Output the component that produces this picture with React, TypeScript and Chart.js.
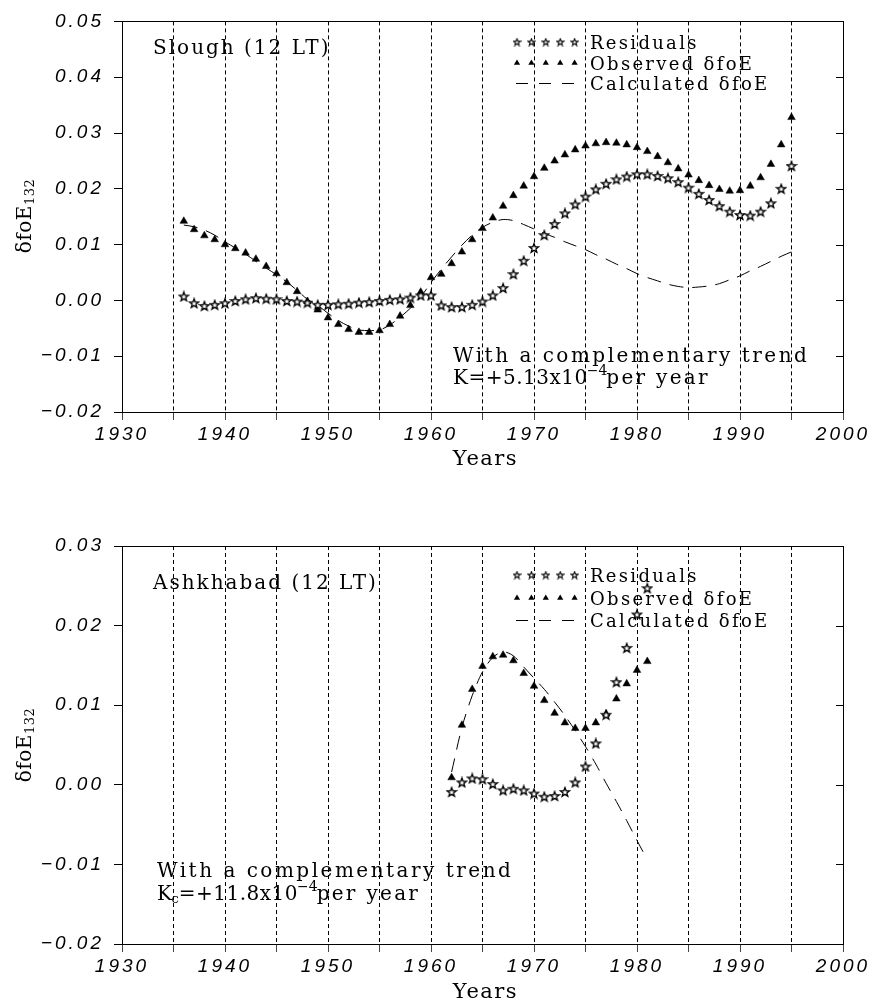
import React, { useEffect, useRef } from "react";
import { Chart, registerables } from "chart.js";
Chart.register(...registerables);

// ---------- data ----------
const xTickValues = [1930, 1935, 1940, 1945, 1950, 1955, 1960, 1965, 1970, 1975, 1980, 1985, 1990, 1995, 2000];
const xTickLabels = ["1930", "", "1940", "", "1950", "", "1960", "", "1970", "", "1980", "", "1990", "", "2000"];

const sloughYTicks = [-0.02, -0.01, 0, 0.01, 0.02, 0.03, 0.04, 0.05];
const sloughYLabels = ["\u22120.02", "\u22120.01", "0.00", "0.01", "0.02", "0.03", "0.04", "0.05"];
const ashYTicks = [-0.02, -0.01, 0, 0.01, 0.02, 0.03];
const ashYLabels = ["\u22120.02", "\u22120.01", "0.00", "0.01", "0.02", "0.03"];

const sloughYears = [
  1936, 1937, 1938, 1939, 1940, 1941, 1942, 1943, 1944, 1945,
  1946, 1947, 1948, 1949, 1950, 1951, 1952, 1953, 1954, 1955,
  1956, 1957, 1958, 1959, 1960, 1961, 1962, 1963, 1964, 1965,
  1966, 1967, 1968, 1969, 1970, 1971, 1972, 1973, 1974, 1975,
  1976, 1977, 1978, 1979, 1980, 1981, 1982, 1983, 1984, 1985,
  1986, 1987, 1988, 1989, 1990, 1991, 1992, 1993, 1994, 1995,
];
const sloughObserved = [
  0.0142, 0.0127, 0.0116, 0.0109, 0.0100, 0.0093, 0.0085, 0.0074, 0.0061, 0.0048,
  0.0032, 0.0016, -0.0002, -0.0017, -0.0031, -0.0043, -0.0052, -0.0057, -0.0057, -0.0054,
  -0.0043, -0.0028, -0.0009, 0.0015, 0.0041, 0.0047, 0.0066, 0.0087, 0.0109, 0.0129,
  0.0148, 0.0169, 0.0188, 0.0205, 0.0222, 0.0237, 0.0250, 0.0261, 0.0270, 0.0277,
  0.0281, 0.0283, 0.0282, 0.0279, 0.0274, 0.0267, 0.0258, 0.0247, 0.0236, 0.0225,
  0.0215, 0.0206, 0.0199, 0.0196, 0.0197, 0.0205, 0.0220, 0.0244, 0.0279, 0.0328,
];
const sloughResiduals = [
  0.0007, -0.0005, -0.0010, -0.0008, -0.0005, -0.0001, 0.0002, 0.0004, 0.0003, 0.0002,
  -0.0001, -0.0002, -0.0004, -0.0008, -0.0008, -0.0007, -0.0006, -0.0004, -0.0003, -0.0001,
  0.0001, 0.0002, 0.0005, 0.0009, 0.0009, -0.0009, -0.0012, -0.0012, -0.0008, -0.0002,
  0.0009, 0.0022, 0.0047, 0.0071, 0.0094, 0.0117, 0.0137, 0.0156, 0.0172, 0.0186,
  0.0199, 0.0209, 0.0217, 0.0222, 0.0226, 0.0226, 0.0223, 0.0219, 0.0212, 0.0202,
  0.0191, 0.0180, 0.0169, 0.0159, 0.0153, 0.0152, 0.0159, 0.0174, 0.0200, 0.0241,
];
const sloughCalculated = [
  0.0135, 0.0132, 0.0126, 0.0117, 0.0105, 0.0094, 0.0083, 0.0070, 0.0058, 0.0046,
  0.0033, 0.0018, 0.0002, -0.0009, -0.0023, -0.0036, -0.0046, -0.0053, -0.0054, -0.0053,
  -0.0044, -0.0030, -0.0014, 0.0006, 0.0032, 0.0056, 0.0078, 0.0099, 0.0117, 0.0131,
  0.0140, 0.0145, 0.0143, 0.0136, 0.0128, 0.0120, 0.0113, 0.0105, 0.0098, 0.0091,
  0.0082, 0.0074, 0.0065, 0.0057, 0.0048, 0.0041, 0.0035, 0.0029, 0.0025, 0.0023,
  0.0024, 0.0026, 0.0030, 0.0037, 0.0044, 0.0053, 0.0061, 0.0070, 0.0079, 0.0087,
];

const ashYears = [
  1962, 1963, 1964, 1965, 1966, 1967, 1968, 1969, 1970, 1971,
  1972, 1973, 1974, 1975, 1976, 1977, 1978, 1979, 1980, 1981,
];
const ashObserved = [
  0.0009, 0.0075, 0.0120, 0.0149, 0.0161, 0.0163, 0.0156, 0.0140, 0.0124, 0.0106,
  0.0090, 0.0078, 0.0071, 0.0071, 0.0078, 0.0089, 0.0108, 0.0127, 0.0144, 0.0155,
];
const ashResiduals = [
  -0.0009, 0.0003, 0.0008, 0.0007, 0.0001, -0.0007, -0.0005, -0.0007, -0.0011, -0.0015,
  -0.0014, -0.0009, 0.0003, 0.0023, 0.0052, 0.0088, 0.0129, 0.0172, 0.0214, 0.0247,
];
const ashCalculated = [
  0.0016, 0.0072, 0.0112, 0.0142, 0.0160, 0.0167, 0.0162, 0.0148, 0.0134, 0.0120,
  0.0104, 0.0087, 0.0068, 0.0048, 0.0026, 0.0002, -0.0021, -0.0045, -0.0070, -0.0094,
];

// ---------- helpers ----------
const SERIF = "'DejaVu Serif'";

function makeStar(size: number, outer: number, inner: number, lw: number) {
  const c = document.createElement("canvas");
  c.width = size;
  c.height = size;
  const ctx = c.getContext("2d")!;
  const cx = size / 2;
  const cy = size / 2 + 0.4;
  ctx.beginPath();
  for (let i = 0; i < 10; i++) {
    const r = i % 2 === 0 ? outer : inner;
    const a = -Math.PI / 2 + (i * Math.PI) / 5;
    const x = cx + r * Math.cos(a);
    const y = cy + r * Math.sin(a);
    if (i === 0) ctx.moveTo(x, y);
    else ctx.lineTo(x, y);
  }
  ctx.closePath();
  ctx.fillStyle = "#fff";
  ctx.fill();
  ctx.lineWidth = lw;
  ctx.lineJoin = "miter";
  ctx.strokeStyle = "#000";
  ctx.stroke();
  return c;
}

function txt(ctx: CanvasRenderingContext2D, s: string, x: number, y: number, font: string, sp: number) {
  ctx.font = font;
  (ctx as any).letterSpacing = sp + "px";
  ctx.fillText(s, x, y);
  return ctx.measureText(s).width;
}

type Overlay = {
  title: string;
  titleCY: number;
  legendRows: number[];
  noteX: number;
  note1CY: number;
  note2CY: number;
  kSub: string;
  kRest: string;
  yTitleCY: number;
  yearsCY: number;
};

function overlayPlugin(o: Overlay, legendStar: HTMLCanvasElement) {
  return {
    id: "overlay",
    beforeDraw(chart: any) {
      (chart.ctx as any).letterSpacing = "3px";
    },
    afterDraw(chart: any) {
      const ctx: CanvasRenderingContext2D = chart.ctx;
      const { left, right, top, bottom } = chart.chartArea;
      const ys = chart.scales.y;
      ctx.save();
      (ctx as any).letterSpacing = "0px";
      ctx.setLineDash([]);
      ctx.strokeStyle = "#000";
      ctx.lineWidth = 1;
      const L = Math.round(left), R = Math.round(right), T = Math.round(top), B = Math.round(bottom);
      ctx.strokeRect(L + 0.5, T + 0.5, R - L, B - T);
      // inward ticks on right
      ctx.beginPath();
      ys.ticks.forEach((t: any) => {
        const y = Math.round(ys.getPixelForValue(t.value)) + 0.5;
        ctx.moveTo(R - 7, y);
        ctx.lineTo(R, y);
      });
      ctx.stroke();

      ctx.fillStyle = "#000";
      ctx.textAlign = "left";
      ctx.textBaseline = "alphabetic";

      // station title
      txt(ctx, o.title, 153, o.titleCY + 7.3, `20px ${SERIF}`, 2);

      // legend
      const lx0 = 517;
      const ldx = 14.4;
      const [r1, r2, r3] = o.legendRows;
      for (let i = 0; i < 5; i++) {
        const x = lx0 + i * ldx;
        ctx.drawImage(legendStar, x - legendStar.width / 2, r1 - legendStar.height / 2);
        const r = 3.6;
        ctx.beginPath();
        ctx.moveTo(x, r2 - r);
        ctx.lineTo(x + r * 0.866, r2 + r / 2);
        ctx.lineTo(x - r * 0.866, r2 + r / 2);
        ctx.closePath();
        ctx.fill();
      }
      ctx.save();
      ctx.setLineDash([12, 11]);
      ctx.beginPath();
      ctx.moveTo(516, r3 + 0.5);
      ctx.lineTo(576, r3 + 0.5);
      ctx.stroke();
      ctx.restore();
      const lf = `18px ${SERIF}`;
      txt(ctx, "Residuals", 590, r1 + 6.5, lf, 2.3);
      txt(ctx, "Observed \u03B4foE", 590, r2 + 6.5, lf, 2.3);
      txt(ctx, "Calculated \u03B4foE", 590, r3 + 6.5, lf, 2.3);

      // notes
      const nf = `20px ${SERIF}`;
      txt(ctx, "With a complementary trend", o.noteX, o.note1CY + 7.3, nf, 2.5);
      let x = o.noteX;
      const b2 = o.note2CY + 7.3;
      x += txt(ctx, "K", x, b2, nf, 0.5);
      if (o.kSub) {
        x += txt(ctx, o.kSub, x - 1, b2 + 3, `13px ${SERIF}`, 0) - 1;
      }
      x += txt(ctx, o.kRest, x, b2, nf, 0.5);
      x += txt(ctx, "\u22124", x - 1, b2 - 9, `14px ${SERIF}`, 0) - 2;
      txt(ctx, "per year", x, b2, nf, 2.3);

      // y title
      ctx.save();
      ctx.translate(22, o.yTitleCY);
      ctx.rotate(-Math.PI / 2);
      ctx.font = `20px ${SERIF}`;
      (ctx as any).letterSpacing = "0.5px";
      const w1 = ctx.measureText("\u03B4foE").width;
      ctx.font = `13px ${SERIF}`;
      const w2 = ctx.measureText("132").width;
      const sx = -(w1 + w2) / 2;
      txt(ctx, "\u03B4foE", sx, 9, `20px ${SERIF}`, 0.5);
      txt(ctx, "132", sx + w1, 12, `13px ${SERIF}`, 0.5);
      ctx.restore();

      // x title
      ctx.textAlign = "center";
      txt(ctx, "Years", (left + right) / 2 + 3, o.yearsCY + 7.5, `21px ${SERIF}`, 1.5);
      ctx.restore();
    },
  };
}

function makeChart(
  canvas: HTMLCanvasElement,
  years: number[],
  observed: number[],
  residuals: number[],
  calculated: number[],
  yTicks: number[],
  yLabels: string[],
  padTop: number,
  xAxisHeight: number,
  o: Overlay
) {
  const star = makeStar(12, 4.8, 2.0, 1.3);
  const legendStar = makeStar(9, 3.6, 1.5, 1.1);
  const pts = (vals: number[]) => years.map((y, i) => ({ x: y, y: vals[i] }));
  const tickFont = { family: "Liberation Sans", size: 19, style: "italic" as const };
  return new Chart(canvas, {
    type: "scatter",
    data: {
      datasets: [
        {
          label: "Residuals",
          data: pts(residuals),
          pointStyle: star as any,
          pointRadius: 4,
          showLine: false,
          order: 0,
        },
        {
          label: "Observed",
          data: pts(observed),
          pointStyle: "triangle",
          pointRadius: 4.4,
          pointBackgroundColor: "#000",
          pointBorderColor: "#000",
          pointBorderWidth: 0.5,
          showLine: false,
          order: 1,
        },
        {
          label: "Calculated",
          data: pts(calculated),
          showLine: true,
          pointRadius: 0,
          borderColor: "#000",
          borderWidth: 1,
          borderDash: [14, 9],
          tension: 0.3,
          order: 2,
        },
      ],
    },
    options: {
      animation: false,
      responsive: false,
      devicePixelRatio: 1,
      layout: { padding: { left: 0, right: 29, top: padTop, bottom: 0 } },
      plugins: { legend: { display: false }, tooltip: { enabled: false } },
      scales: {
        x: {
          type: "linear",
          min: 1930,
          max: 2000,
          afterBuildTicks: (s: any) => {
            s.ticks = xTickValues.map((v) => ({ value: v }));
          },
          afterFit: (s: any) => {
            s.height = xAxisHeight;
          },
          ticks: {
            autoSkip: false,
            maxRotation: 0,
            padding: 3,
            color: "#000",
            font: tickFont,
            callback: (v: any) => {
              const i = xTickValues.indexOf(Number(v));
              return i >= 0 ? xTickLabels[i] : "";
            },
          },
          grid: {
            color: "#000",
            lineWidth: 1,
            tickLength: 8,
            tickColor: "#444",
            tickBorderDash: [],
          } as any,
          border: { display: false, dash: [4, 3] },
        },
        y: {
          type: "linear",
          min: yTicks[0],
          max: yTicks[yTicks.length - 1],
          afterBuildTicks: (s: any) => {
            s.ticks = yTicks.map((v) => ({ value: v }));
          },
          afterFit: (s: any) => {
            s.width = 122;
          },
          ticks: {
            padding: 10,
            color: "#000",
            font: tickFont,
            callback: (v: any) => {
              const i = yTicks.findIndex((t) => Math.abs(t - Number(v)) < 1e-9);
              return i >= 0 ? yLabels[i] : "";
            },
          },
          grid: { drawOnChartArea: false, tickLength: 8, color: "#000" },
          border: { display: false },
        },
      },
    },
    plugins: [overlayPlugin(o, legendStar)],
  });
}

export default function App() {
  const r1 = useRef<HTMLCanvasElement>(null);
  const r2 = useRef<HTMLCanvasElement>(null);
  useEffect(() => {
    const c1 = makeChart(
      r1.current!,
      sloughYears,
      sloughObserved,
      sloughResiduals,
      sloughCalculated,
      sloughYTicks,
      sloughYLabels,
      12,
      98,
      {
        title: "Slough (12 LT)",
        titleCY: 47,
        legendRows: [42, 63, 83],
        noteX: 453,
        note1CY: 355,
        note2CY: 377,
        kSub: "",
        kRest: "=+5.13x10",
        yTitleCY: 216,
        yearsCY: 457,
      }
    );
    const c2 = makeChart(
      r2.current!,
      ashYears,
      ashObserved,
      ashResiduals,
      ashCalculated,
      ashYTicks,
      ashYLabels,
      36,
      62,
      {
        title: "Ashkhabad (12 LT)",
        titleCY: 72,
        legendRows: [65, 88, 110],
        noteX: 157,
        note1CY: 360,
        note2CY: 383,
        kSub: "c",
        kRest: "=+11.8x10",
        yTitleCY: 235,
        yearsCY: 480,
      }
    );
    return () => {
      c1.destroy();
      c2.destroy();
    };
  }, []);
  return (
    <div style={{ position: "absolute", left: 0, top: 0, width: 872, height: 1006, background: "#fff" }}>
      <canvas ref={r1} width={872} height={510} style={{ position: "absolute", left: 0, top: 0 }} />
      <canvas ref={r2} width={872} height={496} style={{ position: "absolute", left: 0, top: 510 }} />
    </div>
  );
}
